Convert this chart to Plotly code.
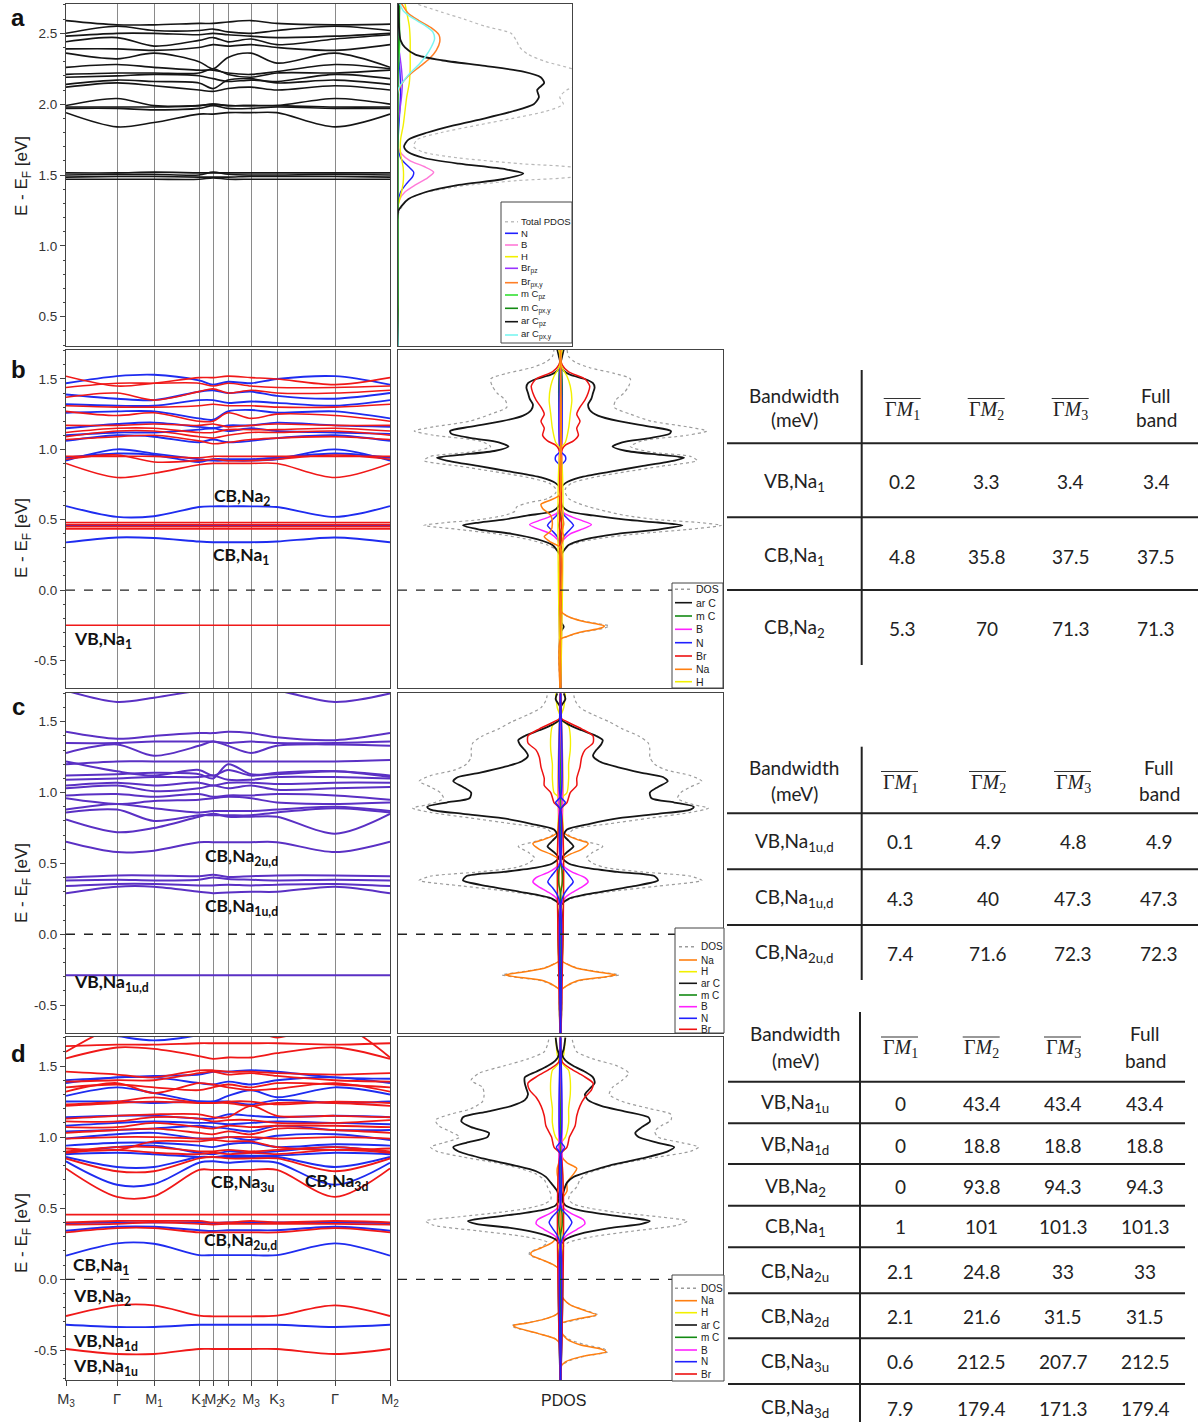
import plotly.graph_objects as go

W, H = 1198, 1422

# ---------------- k-path ----------------
KPOS = [0, 51, 88, 133, 147, 162, 185, 211, 269, 324]
KLABELS = ["M<sub>3</sub>", "Γ", "M<sub>1</sub>", "K<sub>1</sub>", "M<sub>2</sub>",
           "K<sub>2</sub>", "M<sub>3</sub>", "K<sub>3</sub>", "Γ", "M<sub>2</sub>"]

# energy tick labels
A_TICKS = [0.5, 1.0, 1.5, 2.0, 2.5]
BCD_TICKS = [-0.5, 0.0, 0.5, 1.0, 1.5]

# ---------------- band energies (eV) at the k-path nodes ----------------
A_BANDS = [
    [1.47, 1.47, 1.47, 1.47, 1.48, 1.47, 1.47, 1.47, 1.47, 1.47],
    [1.485, 1.49, 1.49, 1.485, 1.485, 1.485, 1.49, 1.49, 1.49, 1.485],
    [1.50, 1.505, 1.505, 1.50, 1.52, 1.505, 1.50, 1.50, 1.505, 1.50],
    [1.515, 1.515, 1.52, 1.515, 1.515, 1.515, 1.515, 1.515, 1.515, 1.515],
    [1.94, 1.84, 1.87, 1.93, 1.93, 1.94, 1.94, 1.94, 1.84, 1.93],
    [1.97, 1.97, 1.96, 1.97, 1.99, 1.97, 1.97, 1.98, 1.97, 1.97],
    [1.98, 1.98, 1.98, 1.99, 2.00, 1.99, 1.99, 1.99, 1.98, 1.98],
    [1.99, 2.04, 1.99, 1.99, 2.00, 1.99, 1.99, 1.99, 2.04, 2.00],
    [2.12, 2.15, 2.13, 2.10, 2.09, 2.11, 2.12, 2.10, 2.13, 2.10],
    [2.14, 2.17, 2.16, 2.15, 2.11, 2.17, 2.18, 2.15, 2.17, 2.14],
    [2.19, 2.20, 2.21, 2.20, 2.18, 2.16, 2.17, 2.16, 2.21, 2.18],
    [2.21, 2.22, 2.22, 2.22, 2.25, 2.21, 2.19, 2.22, 2.22, 2.24],
    [2.26, 2.28, 2.26, 2.24, 2.24, 2.22, 2.21, 2.23, 2.28, 2.25],
    [2.36, 2.32, 2.36, 2.30, 2.25, 2.33, 2.36, 2.29, 2.36, 2.26],
    [2.39, 2.39, 2.38, 2.40, 2.42, 2.41, 2.42, 2.40, 2.38, 2.42],
    [2.44, 2.47, 2.41, 2.45, 2.47, 2.44, 2.46, 2.42, 2.46, 2.49],
    [2.48, 2.50, 2.50, 2.49, 2.50, 2.49, 2.48, 2.47, 2.48, 2.50],
    [2.50, 2.55, 2.52, 2.52, 2.53, 2.51, 2.50, 2.52, 2.55, 2.52],
    [2.59, 2.56, 2.56, 2.57, 2.57, 2.58, 2.59, 2.57, 2.56, 2.565],
]

B_UP = [
    [-0.25, -0.25, -0.25, -0.25, -0.25, -0.25, -0.25, -0.25, -0.25, -0.25],
    [0.435, 0.435, 0.435, 0.435, 0.435, 0.435, 0.435, 0.435, 0.435, 0.435],
    [0.45, 0.45, 0.45, 0.45, 0.45, 0.45, 0.45, 0.45, 0.45, 0.45],
    [0.465, 0.465, 0.465, 0.465, 0.465, 0.465, 0.465, 0.465, 0.465, 0.465],
    [0.48, 0.48, 0.48, 0.48, 0.48, 0.48, 0.48, 0.48, 0.48, 0.48],
    [0.90, 0.80, 0.83, 0.89, 0.90, 0.90, 0.90, 0.90, 0.80, 0.90],
    [0.93, 0.96, 0.91, 0.92, 0.93, 0.92, 0.92, 0.93, 0.96, 0.93],
    [0.95, 0.95, 0.95, 0.94, 0.95, 0.95, 0.95, 0.95, 0.95, 0.95],
    [1.07, 1.09, 1.10, 1.06, 1.04, 1.05, 1.07, 1.08, 1.09, 1.07],
    [1.09, 1.13, 1.13, 1.09, 1.08, 1.10, 1.12, 1.12, 1.13, 1.10],
    [1.12, 1.15, 1.15, 1.12, 1.12, 1.14, 1.14, 1.14, 1.15, 1.13],
    [1.17, 1.17, 1.18, 1.17, 1.18, 1.16, 1.17, 1.18, 1.17, 1.17],
    [1.27, 1.24, 1.26, 1.20, 1.20, 1.26, 1.22, 1.25, 1.24, 1.20],
    [1.31, 1.30, 1.30, 1.31, 1.32, 1.31, 1.31, 1.30, 1.30, 1.32],
    [1.37, 1.40, 1.35, 1.41, 1.43, 1.40, 1.42, 1.40, 1.40, 1.42],
    [1.44, 1.47, 1.47, 1.47, 1.45, 1.47, 1.45, 1.44, 1.44, 1.45],
    [1.52, 1.45, 1.47, 1.51, 1.51, 1.52, 1.51, 1.50, 1.46, 1.51],
]
B_DN = [
    [0.339, 0.374, 0.37, 0.345, 0.34, 0.34, 0.34, 0.345, 0.374, 0.34],
    [0.455, 0.455, 0.455, 0.455, 0.455, 0.455, 0.455, 0.455, 0.455, 0.455],
    [0.597, 0.52, 0.525, 0.59, 0.595, 0.595, 0.595, 0.59, 0.52, 0.597],
    [0.92, 1.00, 0.97, 0.93, 0.92, 0.92, 0.92, 0.93, 1.00, 0.92],
    [0.94, 0.97, 0.96, 0.91, 0.93, 0.93, 0.93, 0.94, 0.97, 0.94],
    [1.06, 1.10, 1.09, 1.05, 1.07, 1.05, 1.06, 1.08, 1.10, 1.06],
    [1.10, 1.12, 1.12, 1.14, 1.15, 1.13, 1.15, 1.13, 1.12, 1.11],
    [1.15, 1.18, 1.19, 1.16, 1.15, 1.17, 1.17, 1.19, 1.17, 1.16],
    [1.26, 1.27, 1.27, 1.22, 1.21, 1.27, 1.28, 1.26, 1.27, 1.22],
    [1.32, 1.31, 1.31, 1.35, 1.35, 1.33, 1.34, 1.33, 1.31, 1.35],
    [1.39, 1.36, 1.35, 1.41, 1.42, 1.40, 1.41, 1.38, 1.36, 1.40],
    [1.47, 1.52, 1.53, 1.49, 1.46, 1.48, 1.47, 1.50, 1.52, 1.46],
]

C_BANDS = [
    [-0.29, -0.29, -0.29, -0.29, -0.29, -0.29, -0.29, -0.29, -0.29, -0.29],
    [0.289, 0.336, 0.336, 0.30, 0.29, 0.295, 0.30, 0.30, 0.336, 0.289],
    [0.34, 0.355, 0.355, 0.345, 0.345, 0.35, 0.345, 0.35, 0.355, 0.34],
    [0.38, 0.385, 0.38, 0.385, 0.40, 0.39, 0.385, 0.38, 0.385, 0.38],
    [0.40, 0.415, 0.415, 0.41, 0.42, 0.405, 0.41, 0.415, 0.415, 0.41],
    [0.654, 0.58, 0.59, 0.65, 0.65, 0.65, 0.65, 0.65, 0.58, 0.654],
    [0.81, 0.72, 0.75, 0.83, 0.85, 0.83, 0.83, 0.83, 0.71, 0.85],
    [0.86, 0.88, 0.80, 0.84, 0.84, 0.84, 0.84, 0.86, 0.89, 0.86],
    [0.88, 0.92, 0.89, 0.86, 0.87, 0.87, 0.87, 0.88, 0.90, 0.87],
    [0.96, 0.92, 0.94, 0.95, 0.96, 0.97, 0.96, 0.93, 0.92, 0.93],
    [0.98, 0.99, 0.97, 0.99, 0.97, 0.98, 0.98, 0.99, 0.98, 0.95],
    [1.03, 1.05, 1.01, 1.03, 1.05, 1.03, 1.05, 1.02, 1.03, 1.04],
    [1.05, 1.07, 1.05, 1.07, 1.05, 1.07, 1.07, 1.06, 1.07, 1.07],
    [1.09, 1.10, 1.11, 1.11, 1.12, 1.09, 1.09, 1.11, 1.11, 1.10],
    [1.12, 1.13, 1.14, 1.13, 1.10, 1.20, 1.13, 1.13, 1.15, 1.12],
    [1.20, 1.22, 1.22, 1.22, 1.22, 1.22, 1.22, 1.22, 1.22, 1.23],
    [1.22, 1.15, 1.12, 1.16, 1.12, 1.16, 1.12, 1.14, 1.15, 1.11],
    [1.28, 1.34, 1.26, 1.33, 1.36, 1.33, 1.28, 1.33, 1.34, 1.33],
    [1.35, 1.35, 1.36, 1.36, 1.36, 1.35, 1.36, 1.35, 1.35, 1.36],
    [1.43, 1.38, 1.40, 1.42, 1.42, 1.43, 1.42, 1.39, 1.37, 1.42],
    [1.72, 1.64, 1.67, 1.72, 1.73, 1.73, 1.73, 1.72, 1.64, 1.70],
]

D_UP = [
    [-0.49, -0.525, -0.525, -0.49, -0.49, -0.49, -0.49, -0.49, -0.525, -0.49],
    [-0.258, -0.183, -0.183, -0.255, -0.26, -0.26, -0.26, -0.255, -0.183, -0.258],
    [0.33, 0.36, 0.36, 0.33, 0.33, 0.33, 0.33, 0.33, 0.36, 0.33],
    [0.385, 0.39, 0.40, 0.39, 0.385, 0.39, 0.39, 0.39, 0.39, 0.385],
    [0.40, 0.41, 0.41, 0.41, 0.40, 0.40, 0.41, 0.40, 0.41, 0.40],
    [0.455, 0.455, 0.455, 0.455, 0.455, 0.455, 0.455, 0.455, 0.455, 0.455],
    [0.78, 0.58, 0.585, 0.77, 0.77, 0.77, 0.77, 0.77, 0.58, 0.78],
    [0.85, 0.76, 0.76, 0.85, 0.86, 0.85, 0.85, 0.85, 0.76, 0.85],
    [0.89, 0.91, 0.89, 0.88, 0.89, 0.88, 0.89, 0.88, 0.91, 0.89],
    [0.90, 0.93, 0.93, 0.90, 0.90, 0.91, 0.90, 0.91, 0.93, 0.90],
    [0.92, 0.91, 0.97, 0.97, 0.98, 0.97, 0.97, 0.93, 0.91, 0.92],
    [0.99, 1.00, 1.00, 0.99, 0.99, 1.00, 1.00, 0.99, 1.00, 0.99],
    [1.03, 1.05, 1.06, 1.03, 1.02, 1.04, 1.02, 1.06, 1.05, 1.03],
    [1.07, 1.07, 1.10, 1.07, 1.06, 1.08, 1.07, 1.08, 1.08, 1.07],
    [1.11, 1.11, 1.14, 1.13, 1.11, 1.12, 1.12, 1.10, 1.10, 1.12],
    [1.13, 1.15, 1.16, 1.16, 1.14, 1.14, 1.22, 1.15, 1.15, 1.14],
    [1.22, 1.24, 1.25, 1.24, 1.24, 1.24, 1.22, 1.24, 1.24, 1.22],
    [1.23, 1.25, 1.28, 1.24, 1.24, 1.25, 1.25, 1.23, 1.25, 1.24],
    [1.32, 1.38, 1.31, 1.38, 1.37, 1.35, 1.33, 1.34, 1.38, 1.32],
    [1.35, 1.37, 1.35, 1.33, 1.35, 1.37, 1.35, 1.38, 1.37, 1.35],
    [1.39, 1.40, 1.40, 1.45, 1.46, 1.44, 1.45, 1.43, 1.40, 1.39],
    [1.46, 1.44, 1.42, 1.47, 1.47, 1.46, 1.46, 1.45, 1.44, 1.45],
    [1.554, 1.63, 1.62, 1.57, 1.55, 1.56, 1.56, 1.59, 1.63, 1.55],
    [1.64, 1.65, 1.65, 1.66, 1.66, 1.66, 1.66, 1.66, 1.65, 1.66],
    [1.60, 1.78, 1.80, 1.78, 1.78, 1.78, 1.76, 1.70, 1.80, 1.56],
]
D_DN = [
    [-0.32, -0.335, -0.335, -0.32, -0.32, -0.32, -0.32, -0.32, -0.335, -0.32],
    [0.166, 0.253, 0.25, 0.17, 0.17, 0.17, 0.17, 0.17, 0.253, 0.166],
    [0.342, 0.37, 0.37, 0.345, 0.34, 0.345, 0.345, 0.345, 0.37, 0.342],
    [0.395, 0.40, 0.40, 0.40, 0.395, 0.40, 0.40, 0.40, 0.40, 0.395],
    [0.83, 0.665, 0.67, 0.82, 0.83, 0.82, 0.83, 0.82, 0.665, 0.82],
    [0.86, 0.79, 0.79, 0.86, 0.86, 0.86, 0.86, 0.86, 0.79, 0.86],
    [0.88, 0.89, 0.88, 0.86, 0.86, 0.87, 0.87, 0.87, 0.89, 0.88],
    [0.89, 0.93, 0.94, 0.89, 0.88, 0.90, 0.89, 0.90, 0.93, 0.89],
    [0.94, 0.96, 0.96, 0.94, 0.93, 0.95, 0.96, 0.93, 0.95, 0.94],
    [0.99, 1.02, 1.03, 0.99, 0.99, 1.00, 0.98, 1.01, 1.02, 0.98],
    [1.04, 1.05, 1.06, 1.08, 1.07, 1.06, 1.04, 1.08, 1.05, 1.05],
    [1.08, 1.10, 1.11, 1.10, 1.10, 1.09, 1.10, 1.11, 1.10, 1.09],
    [1.14, 1.15, 1.15, 1.13, 1.13, 1.16, 1.15, 1.14, 1.15, 1.14],
    [1.25, 1.25, 1.24, 1.25, 1.25, 1.25, 1.23, 1.26, 1.24, 1.25],
    [1.29, 1.35, 1.31, 1.25, 1.25, 1.29, 1.33, 1.28, 1.35, 1.30],
    [1.38, 1.42, 1.42, 1.38, 1.37, 1.39, 1.37, 1.40, 1.42, 1.38],
    [1.40, 1.42, 1.43, 1.44, 1.46, 1.46, 1.47, 1.46, 1.42, 1.41],
    [1.76, 1.71, 1.68, 1.72, 1.76, 1.78, 1.78, 1.78, 1.75, 1.78],
]

# ---------------- projected DOS: (E, value) or (E, spin up, spin down) ----------------
A_TOTAL = [(0.29, 0), (1.22, 0), (1.27, 0.02), (1.32, 0.05), (1.37, 0.14), (1.42, 0.35), (1.46, 0.68),
           (1.50, 1.05), (1.54, 1.05), (1.58, 0.7), (1.62, 0.35), (1.66, 0.15), (1.70, 0.09), (1.75, 0.11),
           (1.80, 0.25), (1.85, 0.45), (1.90, 0.66), (1.95, 0.85), (2.00, 0.95), (2.05, 0.93), (2.10, 0.97),
           (2.15, 1.08), (2.20, 1.1), (2.25, 1.0), (2.30, 0.85), (2.35, 0.75), (2.40, 0.7), (2.45, 0.68),
           (2.50, 0.65), (2.55, 0.5), (2.60, 0.38), (2.65, 0.25), (2.71, 0.1)]
A_N = [(0.29, 0), (1.30, 0), (1.38, 0.015), (1.44, 0.05), (1.49, 0.085), (1.52, 0.09), (1.56, 0.06),
       (1.61, 0.02), (1.66, 0.005), (1.72, 0), (1.95, 0.01), (2.1, 0.015), (2.25, 0.01), (2.4, 0), (2.71, 0)]
A_B = [(0.29, 0), (1.28, 0), (1.33, 0.01), (1.38, 0.04), (1.43, 0.1), (1.48, 0.17), (1.52, 0.205),
       (1.56, 0.15), (1.60, 0.07), (1.65, 0.02), (1.70, 0), (2.71, 0)]
A_H = [(0.29, 0), (1.28, 0), (1.35, 0.015), (1.45, 0.03), (1.55, 0.03), (1.65, 0.015), (1.75, 0.015),
       (1.85, 0.03), (1.95, 0.04), (2.05, 0.05), (2.15, 0.065), (2.25, 0.07), (2.35, 0.07), (2.45, 0.07),
       (2.55, 0.065), (2.65, 0.05), (2.71, 0.04)]
A_BR_PZ = [(0.29, 0), (1.85, 0), (1.95, 0.01), (2.05, 0.02), (2.15, 0.025), (2.25, 0.02), (2.35, 0.01),
           (2.45, 0), (2.71, 0)]
A_BR_PXY = [(0.29, 0), (2.08, 0), (2.14, 0.02), (2.20, 0.06), (2.26, 0.12), (2.32, 0.18), (2.38, 0.22),
            (2.44, 0.24), (2.49, 0.235), (2.54, 0.19), (2.59, 0.12), (2.64, 0.06), (2.71, 0.02)]
A_MC_PZ = [(0.29, 0), (2.2, 0), (2.3, 0.005), (2.45, 0.01), (2.6, 0.008), (2.71, 0.005)]
A_MC_PXY = [(0.29, 0), (2.3, 0), (2.5, 0.006), (2.71, 0.01)]
A_ARC_PZ = [(0.29, 0), (1.24, 0), (1.28, 0.02), (1.33, 0.06), (1.38, 0.16), (1.43, 0.35), (1.47, 0.6),
            (1.51, 0.72), (1.54, 0.62), (1.58, 0.35), (1.62, 0.15), (1.66, 0.06), (1.70, 0.035),
            (1.75, 0.06), (1.80, 0.17), (1.85, 0.32), (1.90, 0.5), (1.95, 0.66), (2.00, 0.78),
            (2.05, 0.81), (2.10, 0.8), (2.15, 0.84), (2.19, 0.82), (2.23, 0.72), (2.27, 0.5),
            (2.31, 0.25), (2.35, 0.1), (2.40, 0.04), (2.45, 0.015), (2.55, 0.005), (2.71, 0.0)]
A_ARC_PXY = [(0.29, 0), (2.10, 0), (2.16, 0.03), (2.22, 0.07), (2.28, 0.12), (2.34, 0.16), (2.40, 0.19),
             (2.46, 0.21), (2.51, 0.2), (2.56, 0.15), (2.61, 0.08), (2.66, 0.03), (2.71, 0.01)]

B_TOTAL = [(-0.75, 0, 0), (-0.36, 0, 0), (-0.33, 0.04, 0), (-0.30, 0.13, 0), (-0.27, 0.27, 0),
           (-0.255, 0.30, 0), (-0.24, 0.24, 0), (-0.22, 0.14, 0), (-0.19, 0.05, 0), (-0.16, 0.01, 0),
           (-0.13, 0, 0), (0.24, 0, 0), (0.28, 0.02, 0.02), (0.32, 0.06, 0.08), (0.36, 0.2, 0.2),
           (0.40, 0.48, 0.4), (0.43, 0.78, 0.62), (0.46, 0.99, 0.84), (0.48, 0.85, 0.7), (0.50, 0.6, 0.5),
           (0.53, 0.4, 0.35), (0.56, 0.28, 0.28), (0.59, 0.18, 0.27), (0.62, 0.1, 0.2), (0.65, 0.05, 0.08),
           (0.69, 0.03, 0.03), (0.72, 0.03, 0.03), (0.76, 0.07, 0.07), (0.80, 0.2, 0.2), (0.84, 0.4, 0.4),
           (0.88, 0.62, 0.62), (0.92, 0.84, 0.84), (0.95, 0.8, 0.8), (0.98, 0.56, 0.56), (1.02, 0.43, 0.43),
           (1.06, 0.5, 0.5), (1.10, 0.78, 0.78), (1.13, 0.9, 0.9), (1.16, 0.78, 0.78), (1.20, 0.56, 0.56),
           (1.25, 0.43, 0.43), (1.30, 0.33, 0.33), (1.35, 0.34, 0.34), (1.40, 0.39, 0.39), (1.45, 0.42, 0.42),
           (1.50, 0.43, 0.43), (1.54, 0.33, 0.33), (1.58, 0.18, 0.18), (1.62, 0.09, 0.09), (1.66, 0.05, 0.05),
           (1.71, 0.04, 0.04)]
B_ARC = [(-0.75, 0, 0), (-0.30, 0, 0), (-0.26, 0.02, 0), (-0.22, 0, 0), (0.24, 0, 0), (0.28, 0.02, 0.02),
         (0.32, 0.05, 0.05), (0.36, 0.15, 0.14), (0.40, 0.35, 0.3), (0.43, 0.6, 0.5), (0.46, 0.75, 0.6),
         (0.48, 0.6, 0.5), (0.50, 0.4, 0.35), (0.53, 0.2, 0.2), (0.56, 0.05, 0.05), (0.60, 0.01, 0.01),
         (0.72, 0.0, 0.0), (0.76, 0.03, 0.03), (0.80, 0.12, 0.12), (0.84, 0.3, 0.3), (0.88, 0.5, 0.5),
         (0.92, 0.7, 0.7), (0.94, 0.76, 0.76), (0.96, 0.62, 0.62), (0.99, 0.4, 0.4), (1.02, 0.32, 0.32),
         (1.05, 0.38, 0.38), (1.08, 0.55, 0.55), (1.11, 0.67, 0.67), (1.13, 0.68, 0.68), (1.16, 0.56, 0.56),
         (1.20, 0.36, 0.36), (1.24, 0.23, 0.23), (1.28, 0.18, 0.18), (1.32, 0.17, 0.17), (1.36, 0.19, 0.19),
         (1.40, 0.2, 0.2), (1.44, 0.21, 0.21), (1.47, 0.2, 0.2), (1.50, 0.15, 0.15), (1.53, 0.06, 0.06),
         (1.56, 0.02, 0.02), (1.60, 0, 0), (1.66, 0.01, 0.01), (1.71, 0.02, 0.02)]
B_NA = [(-0.75, 0, 0), (-0.35, 0, 0), (-0.33, 0.04, 0), (-0.30, 0.12, 0), (-0.27, 0.25, 0),
        (-0.255, 0.27, 0), (-0.24, 0.22, 0), (-0.22, 0.13, 0), (-0.19, 0.05, 0), (-0.16, 0.01, 0),
        (-0.13, 0, 0), (0.30, 0, 0), (0.34, 0.01, 0.06), (0.38, 0.02, 0.1), (0.42, 0.01, 0.06),
        (0.47, 0.02, 0.05), (0.53, 0.01, 0.06), (0.58, 0.0, 0.11), (0.61, 0, 0.12), (0.64, 0, 0.06),
        (0.67, 0, 0.01), (0.70, 0, 0), (1.71, 0, 0)]
B_BR = [(-0.75, 0), (0.95, 0), (1.0, 0.01), (1.03, 0.03), (1.06, 0.08), (1.10, 0.11), (1.15, 0.1),
        (1.20, 0.12), (1.25, 0.1), (1.30, 0.12), (1.35, 0.15), (1.40, 0.17), (1.45, 0.18), (1.50, 0.15),
        (1.55, 0.05), (1.60, 0.01), (1.65, 0), (1.71, 0)]
B_H = [(-0.75, 0), (1.0, 0), (1.05, 0.03), (1.15, 0.05), (1.25, 0.06), (1.35, 0.07), (1.45, 0.06),
       (1.52, 0.04), (1.58, 0.01), (1.62, 0), (1.71, 0.01)]
B_B = [(-0.75, 0), (0.30, 0), (0.36, 0.02), (0.40, 0.06), (0.44, 0.15), (0.465, 0.19), (0.49, 0.14),
       (0.52, 0.07), (0.55, 0.02), (0.60, 0), (1.71, 0)]
B_N = [(-0.75, 0), (0.30, 0), (0.38, 0.02), (0.42, 0.05), (0.46, 0.08), (0.50, 0.05), (0.55, 0.01),
       (0.60, 0), (0.88, 0), (0.92, 0.03), (0.95, 0.03), (0.99, 0), (1.71, 0)]
B_MC = [(-0.75, 0), (0.40, 0), (0.46, 0.01), (0.52, 0), (1.1, 0), (1.3, 0.01), (1.5, 0.01), (1.71, 0)]

C_TOTAL = [(-0.75, 0), (-0.40, 0), (-0.37, 0.03), (-0.33, 0.11), (-0.30, 0.3), (-0.287, 0.36),
           (-0.27, 0.27), (-0.24, 0.11), (-0.21, 0.04), (-0.18, 0), (0.20, 0), (0.25, 0.06), (0.30, 0.3),
           (0.34, 0.6), (0.38, 0.87), (0.41, 0.8), (0.44, 0.5), (0.47, 0.28), (0.50, 0.2), (0.54, 0.16),
           (0.58, 0.2), (0.62, 0.26), (0.66, 0.14), (0.70, 0.05), (0.74, 0.08), (0.78, 0.3), (0.82, 0.55),
           (0.86, 0.8), (0.89, 0.91), (0.92, 0.8), (0.96, 0.72), (1.0, 0.74), (1.04, 0.8), (1.08, 0.87),
           (1.12, 0.8), (1.16, 0.65), (1.20, 0.58), (1.25, 0.55), (1.30, 0.55), (1.35, 0.54), (1.40, 0.48),
           (1.45, 0.38), (1.50, 0.3), (1.55, 0.2), (1.60, 0.12), (1.65, 0.09), (1.70, 0.08)]
C_ARC = [(-0.75, 0), (-0.31, 0), (-0.29, 0.015), (-0.27, 0), (0.20, 0), (0.25, 0.05), (0.30, 0.25),
         (0.34, 0.45), (0.38, 0.6), (0.41, 0.58), (0.44, 0.35), (0.47, 0.15), (0.50, 0.05), (0.54, 0.01),
         (0.58, 0.04), (0.62, 0.08), (0.66, 0.05), (0.70, 0.02), (0.74, 0.04), (0.78, 0.18), (0.82, 0.36),
         (0.85, 0.6), (0.88, 0.8), (0.90, 0.82), (0.93, 0.7), (0.96, 0.56), (1.0, 0.55), (1.04, 0.6),
         (1.08, 0.66), (1.11, 0.63), (1.14, 0.5), (1.18, 0.35), (1.22, 0.24), (1.26, 0.2), (1.30, 0.22),
         (1.34, 0.25), (1.37, 0.26), (1.40, 0.22), (1.44, 0.13), (1.48, 0.05), (1.52, 0), (1.60, 0),
         (1.66, 0.03), (1.70, 0.02)]
C_NA = [(-0.75, 0), (-0.40, 0), (-0.37, 0.03), (-0.33, 0.1), (-0.30, 0.28), (-0.287, 0.34), (-0.27, 0.25),
        (-0.24, 0.1), (-0.21, 0.04), (-0.18, 0), (0.30, 0), (0.36, 0.01), (0.42, 0.01), (0.48, 0.005),
        (0.52, 0), (0.56, 0.05), (0.60, 0.13), (0.64, 0.17), (0.67, 0.1), (0.70, 0.04), (0.74, 0), (1.70, 0)]
C_BR = [(-0.75, 0), (0.88, 0), (0.93, 0.04), (1.0, 0.06), (1.05, 0.1), (1.10, 0.1), (1.18, 0.12),
        (1.25, 0.13), (1.30, 0.15), (1.35, 0.2), (1.40, 0.2), (1.45, 0.13), (1.50, 0.04), (1.53, 0), (1.70, 0)]
C_H = [(-0.75, 0), (0.95, 0), (1.0, 0.04), (1.1, 0.05), (1.2, 0.05), (1.3, 0.06), (1.4, 0.06),
       (1.47, 0.05), (1.52, 0), (1.6, 0.02), (1.70, 0.03)]
C_B = [(-0.75, 0), (0.20, 0), (0.26, 0.03), (0.30, 0.08), (0.34, 0.14), (0.37, 0.17), (0.40, 0.15),
       (0.44, 0.07), (0.48, 0.02), (0.52, 0), (1.70, 0)]
C_N = [(-0.75, 0), (0.20, 0), (0.28, 0.02), (0.33, 0.05), (0.37, 0.078), (0.42, 0.05), (0.48, 0.01),
       (0.52, 0), (0.88, 0), (0.93, 0.03), (0.97, 0), (1.70, 0)]
C_MC = [(-0.75, 0), (0.28, 0), (0.35, 0.01), (0.45, 0.01), (0.52, 0), (1.70, 0)]

D_TOTAL = [(-0.75, 0, 0), (-0.62, 0, 0), (-0.58, 0.04, 0), (-0.54, 0.15, 0), (-0.51, 0.29, 0),
           (-0.49, 0.27, 0), (-0.46, 0.15, 0), (-0.42, 0.05, 0.03), (-0.38, 0.01, 0.14), (-0.34, 0, 0.28),
           (-0.325, 0, 0.3), (-0.31, 0.01, 0.23), (-0.28, 0.12, 0.1), (-0.25, 0.23, 0.03), (-0.22, 0.16, 0),
           (-0.18, 0.06, 0), (-0.14, 0.02, 0), (-0.10, 0, 0), (0.06, 0, 0), (0.10, 0, 0.04), (0.14, 0, 0.12),
           (0.17, 0, 0.19), (0.19, 0.01, 0.19), (0.22, 0.01, 0.13), (0.26, 0.05, 0.08), (0.30, 0.2, 0.22),
           (0.34, 0.45, 0.5), (0.38, 0.72, 0.78), (0.41, 0.78, 0.83), (0.44, 0.6, 0.62), (0.47, 0.35, 0.38),
           (0.50, 0.18, 0.2), (0.53, 0.08, 0.1), (0.56, 0.05, 0.06), (0.60, 0.06, 0.06), (0.65, 0.1, 0.08),
           (0.70, 0.12, 0.1), (0.74, 0.16, 0.15), (0.78, 0.26, 0.25), (0.82, 0.4, 0.4), (0.86, 0.6, 0.6),
           (0.90, 0.8, 0.76), (0.93, 0.85, 0.8), (0.96, 0.75, 0.72), (1.0, 0.6, 0.62), (1.04, 0.58, 0.68),
           (1.08, 0.62, 0.75), (1.12, 0.68, 0.77), (1.16, 0.68, 0.68), (1.20, 0.55, 0.55), (1.25, 0.38, 0.48),
           (1.30, 0.3, 0.47), (1.35, 0.32, 0.48), (1.40, 0.38, 0.55), (1.45, 0.42, 0.5), (1.50, 0.35, 0.35),
           (1.55, 0.2, 0.2), (1.60, 0.1, 0.1), (1.65, 0.08, 0.08), (1.70, 0.07, 0.07)]
D_ARC = [(-0.75, 0, 0), (0.24, 0, 0), (0.28, 0.03, 0.03), (0.32, 0.12, 0.12), (0.36, 0.3, 0.3),
         (0.39, 0.5, 0.52), (0.41, 0.55, 0.57), (0.43, 0.45, 0.47), (0.46, 0.25, 0.26), (0.49, 0.1, 0.1),
         (0.52, 0.03, 0.03), (0.56, 0.01, 0.01), (0.62, 0.02, 0.02), (0.68, 0.04, 0.06), (0.72, 0.08, 0.09),
         (0.76, 0.18, 0.15), (0.80, 0.3, 0.28), (0.85, 0.5, 0.48), (0.90, 0.66, 0.63), (0.93, 0.7, 0.66),
         (0.96, 0.6, 0.58), (1.0, 0.48, 0.45), (1.03, 0.46, 0.44), (1.07, 0.5, 0.55), (1.11, 0.55, 0.61),
         (1.14, 0.54, 0.6), (1.18, 0.4, 0.45), (1.22, 0.25, 0.3), (1.26, 0.17, 0.22), (1.30, 0.15, 0.2),
         (1.34, 0.18, 0.21), (1.38, 0.21, 0.22), (1.42, 0.2, 0.22), (1.46, 0.15, 0.15), (1.50, 0.08, 0.08),
         (1.54, 0.03, 0.03), (1.58, 0.01, 0.01), (1.62, 0.02, 0.02), (1.70, 0.03, 0.03)]
D_NA = [(-0.75, 0, 0), (-0.62, 0, 0), (-0.58, 0.03, 0), (-0.54, 0.14, 0), (-0.51, 0.28, 0),
        (-0.49, 0.25, 0), (-0.46, 0.12, 0), (-0.42, 0.04, 0.03), (-0.38, 0.01, 0.14), (-0.34, 0, 0.27),
        (-0.325, 0, 0.29), (-0.31, 0, 0.22), (-0.28, 0.1, 0.1), (-0.25, 0.22, 0.03), (-0.22, 0.15, 0),
        (-0.18, 0.06, 0), (-0.14, 0.02, 0), (-0.10, 0, 0), (0.06, 0, 0), (0.10, 0, 0.04), (0.14, 0, 0.12),
        (0.17, 0, 0.18), (0.19, 0, 0.18), (0.22, 0, 0.12), (0.26, 0, 0.05), (0.30, 0, 0.02), (0.34, 0, 0),
        (0.55, 0, 0), (0.62, 0.04, 0.01), (0.68, 0.04, 0.01), (0.74, 0.08, 0.02), (0.78, 0.1, 0.02),
        (0.82, 0.04, 0.01), (0.86, 0.01, 0), (1.70, 0, 0)]
D_BR = [(-0.75, 0), (0.88, 0), (0.93, 0.04), (1.0, 0.055), (1.08, 0.09), (1.15, 0.1), (1.22, 0.12),
        (1.28, 0.15), (1.33, 0.19), (1.38, 0.2), (1.43, 0.14), (1.48, 0.065), (1.53, 0.01), (1.70, 0)]
D_H = [(-0.75, 0), (0.95, 0), (1.0, 0.03), (1.1, 0.05), (1.2, 0.05), (1.3, 0.06), (1.4, 0.06),
       (1.47, 0.05), (1.52, 0.01), (1.58, 0.02), (1.70, 0.03)]
D_B = [(-0.75, 0), (0.24, 0), (0.30, 0.03), (0.35, 0.1), (0.39, 0.15), (0.42, 0.14), (0.46, 0.07),
       (0.50, 0.02), (0.54, 0), (1.70, 0)]
D_N = [(-0.75, 0), (0.24, 0), (0.31, 0.02), (0.36, 0.05), (0.40, 0.07), (0.44, 0.05), (0.49, 0.01),
       (0.53, 0), (0.88, 0), (0.93, 0.025), (0.97, 0), (1.70, 0)]
D_MC = [(-0.75, 0), (0.30, 0), (0.38, 0.01), (0.46, 0.01), (0.52, 0), (1.70, 0)]

# ---------------- bandwidth tables (meV) ----------------
COL_HEAD = ["Γ<i>M</i><sub>1</sub>", "Γ<i>M</i><sub>2</sub>", "Γ<i>M</i><sub>3</sub>"]
TB_ROWS = ["VB,Na<sub>1</sub>", "CB,Na<sub>1</sub>", "CB,Na<sub>2</sub>"]
TB_VALS = [[0.2, 3.3, 3.4, 3.4], [4.8, 35.8, 37.5, 37.5], [5.3, 70, 71.3, 71.3]]
TC_ROWS = ["VB,Na<sub>1u,d</sub>", "CB,Na<sub>1u,d</sub>", "CB,Na<sub>2u,d</sub>"]
TC_VALS = [[0.1, 4.9, 4.8, 4.9], [4.3, 40, 47.3, 47.3], [7.4, 71.6, 72.3, 72.3]]
TD_ROWS = ["VB,Na<sub>1u</sub>", "VB,Na<sub>1d</sub>", "VB,Na<sub>2</sub>", "CB,Na<sub>1</sub>",
           "CB,Na<sub>2u</sub>", "CB,Na<sub>2d</sub>", "CB,Na<sub>3u</sub>", "CB,Na<sub>3d</sub>"]
TD_VALS = [[0, 43.4, 43.4, 43.4], [0, 18.8, 18.8, 18.8], [0, 93.8, 94.3, 94.3], [1, 101, 101.3, 101.3],
           [2.1, 24.8, 33, 33], [2.1, 21.6, 31.5, 31.5], [0.6, 212.5, 207.7, 212.5],
           [7.9, 179.4, 171.3, 179.4]]

# ---------------- styling ----------------
RED = "#f01818"
BLUE = "#1e2cf0"
PURPLE = "#5a30c4"
GRAY = "#9c9c9c"
ARIAL = "Liberation Sans, Arial"
BODY = "Lato"
SERIF = "Liberation Serif"


def px(x):
    return x / W


def py(y):
    return 1 - y / H


fig = go.Figure()


def add_bands(bands, color, ax, width=1.9):
    xa, ya = ("x", "y") if ax == 1 else (f"x{ax}", f"y{ax}")
    for b in bands:
        fig.add_trace(go.Scatter(x=KPOS, y=b, mode="lines", xaxis=xa, yaxis=ya,
                                 line=dict(color=color, width=width, shape="spline", smoothing=0.9),
                                 showlegend=False, hoverinfo="skip"))


def add_dos(data, color, ax, width=1.6, dash="solid", mirror=True):
    xa, ya = f"x{ax}", f"y{ax}"
    e = [r[0] for r in data]
    up = [r[1] for r in data]
    dn = [r[2] if len(r) > 2 else r[1] for r in data]
    line = dict(color=color, width=width, dash=dash, shape="spline", smoothing=0.7)
    fig.add_trace(go.Scatter(x=up, y=e, mode="lines", xaxis=xa, yaxis=ya, line=line,
                             showlegend=False, hoverinfo="skip"))
    if mirror:
        fig.add_trace(go.Scatter(x=[-v for v in dn], y=e, mode="lines", xaxis=xa, yaxis=ya, line=line,
                                 showlegend=False, hoverinfo="skip"))


# band structures
add_bands(A_BANDS, "#151515", 1, 1.6)
add_bands(B_DN, BLUE, 3)
add_bands(B_UP, RED, 3, 1.6)
add_bands(C_BANDS, PURPLE, 5, 2.0)
add_bands(D_DN, BLUE, 7)
add_bands(D_UP, RED, 7, 1.8)

# PDOS panel a (one-sided)
for data, col, w, d in [(A_TOTAL, "#b8b8b8", 1.2, "dot"), (A_N, "#2020ff", 1.4, "solid"),
                        (A_B, "#ff7ad8", 1.4, "solid"), (A_H, "#f2f000", 1.4, "solid"),
                        (A_BR_PZ, "#9933ff", 1.4, "solid"), (A_BR_PXY, "#ff7f27", 1.5, "solid"),
                        (A_MC_PZ, "#33e033", 1.4, "solid"), (A_MC_PXY, "#138a13", 1.4, "solid"),
                        (A_ARC_PZ, "#151515", 1.8, "solid"), (A_ARC_PXY, "#7af5f0", 1.5, "solid")]:
    add_dos(data, col, 2, w, d, mirror=False)

# PDOS panels b, c, d (spin up to the right, spin down to the left)
for data, col, w, d in [(B_TOTAL, GRAY, 1.2, "dot"), (B_ARC, "#151515", 1.8, "solid"),
                        (B_MC, "#138a13", 1.4, "solid"), (B_B, "#ff22ff", 1.5, "solid"),
                        (B_N, "#2020ff", 1.5, "solid"), (B_BR, "#ee1111", 1.5, "solid"),
                        (B_H, "#f2f000", 1.4, "solid"), (B_NA, "#ff7f10", 1.5, "solid")]:
    add_dos(data, col, 4, w, d)
for data, col, w, d in [(C_TOTAL, GRAY, 1.2, "dot"), (C_NA, "#ff7f10", 1.5, "solid"),
                        (C_H, "#f2f000", 1.4, "solid"), (C_ARC, "#151515", 1.8, "solid"),
                        (C_MC, "#138a13", 1.4, "solid"), (C_B, "#ff22ff", 1.5, "solid"),
                        (C_BR, "#ee1111", 1.5, "solid"), (C_N, "#2020ff", 1.5, "solid")]:
    add_dos(data, col, 6, w, d)
for data, col, w, d in [(D_TOTAL, GRAY, 1.2, "dot"), (D_NA, "#ff7f10", 1.5, "solid"),
                        (D_H, "#f2f000", 1.4, "solid"), (D_ARC, "#151515", 1.8, "solid"),
                        (D_MC, "#138a13", 1.4, "solid"), (D_B, "#ff22ff", 1.5, "solid"),
                        (D_BR, "#ee1111", 1.5, "solid"), (D_N, "#2020ff", 1.5, "solid")]:
    add_dos(data, col, 8, w, d)

# ---------------- axes ----------------
FRAME = dict(showline=True, mirror=True, linecolor="#444", linewidth=1.2, zeroline=False, automargin=False)
PANELS = {  # band-axis index: (top px, bottom px, y-range, energy ticks)
    1: (4, 346, [0.293, 2.707], A_TICKS),
    3: (350, 688, [-0.696, 1.706], BCD_TICKS),
    5: (693, 1033, [-0.697, 1.703], BCD_TICKS),
    7: (1037, 1380, [-0.708, 1.704], BCD_TICKS),
}
TICKFONT = dict(family=ARIAL, size=13.5, color="#333")
layout_axes = {}
for ax, (top, bot, yr, yt) in PANELS.items():
    xa = "xaxis" if ax == 1 else f"xaxis{ax}"
    ya = "yaxis" if ax == 1 else f"yaxis{ax}"
    xs = "" if ax == 1 else str(ax)
    last = ax == 7
    xdict = dict(domain=[px(66), px(390)], range=[0, 324], anchor="y" + xs,
                 tickmode="array", tickvals=KPOS, showticklabels=last,
                 ticks="outside" if last else "", ticklen=5, tickcolor="#444", tickangle=0,
                 tickfont=dict(family=ARIAL, size=14.5, color="#333"),
                 showgrid=True, gridcolor="#8a8a8a", gridwidth=1, **FRAME)
    if last:
        xdict["ticktext"] = KLABELS
    layout_axes[xa] = xdict
    layout_axes[ya] = dict(domain=[py(bot), py(top)], range=yr, anchor="x" + xs,
                           tickmode="array", tickvals=yt, ticktext=[f"{v:.1f}" for v in yt],
                           ticks="outside", ticklen=5, tickcolor="#444", tickfont=TICKFONT,
                           minor=dict(tickmode="linear", tick0=0, dtick=0.1, ticks="outside",
                                      ticklen=2, tickcolor="#444"),
                           showgrid=False, **FRAME)
    # PDOS axis beside the bands
    pi = ax + 1
    right = 572 if ax == 1 else 723
    layout_axes[f"xaxis{pi}"] = dict(domain=[px(398), px(right)],
                                     range=[0, 1] if ax == 1 else [-1, 1], anchor=f"y{pi}",
                                     showticklabels=False, ticks="", showgrid=False, **FRAME)
    layout_axes[f"yaxis{pi}"] = dict(domain=[py(bot), py(top)], range=yr, anchor=f"x{pi}",
                                     showticklabels=False, ticks="", showgrid=False, **FRAME)

shapes = []
annotations = []


def text(x, y, s, size, family=BODY, color="#222", xanchor="center", bold=False, angle=0):
    annotations.append(dict(x=px(x), y=py(y), xref="paper", yref="paper", text=f"<b>{s}</b>" if bold else s,
                            showarrow=False, xanchor=xanchor, yanchor="middle", textangle=angle,
                            font=dict(family=family, size=size, color=color)))


def hline(x0, x1, y, color="#222", width=2.0, dash="solid"):
    shapes.append(dict(type="line", xref="paper", yref="paper", x0=px(x0), x1=px(x1), y0=py(y), y1=py(y),
                       line=dict(color=color, width=width, dash=dash)))


def vline(x, y0, y1, color="#222", width=2.0):
    shapes.append(dict(type="line", xref="paper", yref="paper", x0=px(x), x1=px(x), y0=py(y0), y1=py(y1),
                       line=dict(color=color, width=width)))


# Fermi level (dashed) in panels b-d
for ax in (3, 5, 7):
    for a in (ax, ax + 1):
        shapes.append(dict(type="line", xref=f"x{a} domain", yref=f"y{a}", x0=0, x1=1, y0=0, y1=0,
                           line=dict(color="#222", width=1.3, dash="dash")))


# manual PDOS legends
def legend(box, entries, x_line, x_text, size):
    x0, y0, x1, y1 = box
    shapes.append(dict(type="rect", xref="paper", yref="paper", x0=px(x0), x1=px(x1), y0=py(y1), y1=py(y0),
                       line=dict(color="#444", width=1), fillcolor="white"))
    for label, color, dash, y in entries:
        shapes.append(dict(type="line", xref="paper", yref="paper", x0=px(x_line[0]), x1=px(x_line[1]),
                           y0=py(y), y1=py(y), line=dict(color=color, width=1.6, dash=dash)))
        text(x_text, y, label, size, family=ARIAL, color="#222", xanchor="left")


legend((501, 202, 572, 343), [
    ("Total PDOS", "#c0c0c0", "dot", 221.7), ("N", "#2020ff", "solid", 233.3), ("B", "#ff7ad8", "solid", 245),
    ("H", "#f2f000", "solid", 256.7), ("Br<sub>pz</sub>", "#9933ff", "solid", 268.3),
    ("Br<sub>px,y</sub>", "#ff7f27", "solid", 282.7), ("m C<sub>pz</sub>", "#33e033", "solid", 295),
    ("m C<sub>px,y</sub>", "#138a13", "solid", 308.3), ("ar C<sub>pz</sub>", "#151515", "solid", 321.7),
    ("ar C<sub>px,y</sub>", "#7af5f0", "solid", 335)], (505, 518), 519, 9.5)
legend((672, 583, 723, 688), [
    ("DOS", GRAY, "dot", 589.3), ("ar C", "#151515", "solid", 602.7), ("m C", "#138a13", "solid", 616),
    ("B", "#ff22ff", "solid", 629.3), ("N", "#2020ff", "solid", 642.7), ("Br", "#ee1111", "solid", 656),
    ("Na", "#ff7f10", "solid", 669.3), ("H", "#f2f000", "solid", 681.7)], (675, 692), 694, 10.5)
for box, ys, xl, xt in [((675, 928, 724, 1033), [946.7, 960, 971.7, 983.3, 995, 1006.7, 1018.3, 1029.3],
                         (679, 697), 699),
                        ((672, 1275, 724, 1381), [1288.3, 1300.7, 1312.7, 1325, 1337.3, 1350, 1361.7, 1374],
                         (675, 697), 699)]:
    legend(box, list(zip(["DOS", "Na", "H", "ar C", "m C", "B", "N", "Br"],
                         [GRAY, "#ff7f10", "#f2f000", "#151515", "#138a13", "#ff22ff", "#2020ff", "#ee1111"],
                         ["dot"] + ["solid"] * 7, ys)), xl, xt, 10)

# panel letters, axis titles, PDOS label
for letter, y in [("a", 18), ("b", 369), ("c", 706), ("d", 1053)]:
    text(18, y, letter, 24, family=ARIAL, color="#111", bold=True)
for y in [176, 538, 883, 1233]:
    text(23, y, "E - E<sub>F</sub> [eV]", 17, family=ARIAL, color="#222", angle=-90)
text(563, 1400, "PDOS", 16, family=ARIAL, color="#222")

# band labels
for s, x, y in [("CB,Na<sub>2</sub>", 212, 496.7), ("CB,Na<sub>1</sub>", 211, 555.7), ("VB,Na<sub>1</sub>", 72, 640),
                ("CB,Na<sub>2u,d</sub>", 203, 856.7), ("CB,Na<sub>1u,d</sub>", 203, 906.7),
                ("VB,Na<sub>1u,d</sub>", 72, 983), ("CB,Na<sub>3u</sub>", 209, 1183),
                ("CB,Na<sub>3d</sub>", 303, 1181.7), ("CB,Na<sub>2u,d</sub>", 202, 1240.7),
                ("CB,Na<sub>1</sub>", 71, 1266), ("VB,Na<sub>2</sub>", 71, 1296.7),
                ("VB,Na<sub>1d</sub>", 71, 1341.7), ("VB,Na<sub>1u</sub>", 71, 1366.7)]:
    text(x, y, s, 17.5, family=BODY, color="#111", xanchor="left", bold=True)


# bandwidth tables
def table(cols, head_y, gm_y, over_y, rows, vals, row_y, hl, hx, vx, vy):
    text(cols[0], head_y[0], "Bandwidth", 19)
    text(cols[0], head_y[1], "(meV)", 19)
    for c, h in zip(cols[1:4], COL_HEAD):
        text(c, gm_y, h, 20, family=SERIF)
        hline(c - 19, c + 18, over_y, color="#333", width=1.1)
    text(cols[4], head_y[0], "Full", 19)
    text(cols[4], head_y[1], "band", 19)
    for r, v, y in zip(rows, vals, row_y):
        text(cols[0], y, r, 19)
        for c, val in zip(cols[1:], v):
            text(c, y, f"{val:g}", 19)
    for y in hl:
        hline(hx[0], hx[1], y)
    vline(vx, vy[0], vy[1])


table([794, 902.7, 986.7, 1070.7, 1156], (395, 420), 410, 398.5, TB_ROWS, TB_VALS,
      [481.7, 556, 628], [443.3, 517.3, 590], (727, 1198), 861.7, (370, 665))
table([794, 900, 988, 1073, 1159], (768, 793), 783, 771.5, TC_ROWS, TC_VALS,
      [841.7, 898.3, 953.3], [813.3, 869.3, 925], (727, 1198), 861.7, (746.7, 980))
table([795, 900, 981.7, 1063, 1145], (1033, 1060), 1048, 1037, TD_ROWS, TD_VALS,
      [1103.3, 1145, 1186.7, 1226.7, 1271.7, 1316.7, 1361.7, 1408.3],
      [1081.7, 1123.3, 1164, 1205.7, 1247.3, 1293.3, 1338.3, 1384], (728, 1185), 860, (1012, 1422))

# margins fixed at zero: nothing may push them, so paper coordinates map 1:1 to pixels
fig.update_layout(width=W, height=H, autosize=False,
                  margin=dict(l=0, r=0, t=0, b=0, pad=0, autoexpand=False),
                  paper_bgcolor="white", plot_bgcolor="white", showlegend=False,
                  shapes=shapes, annotations=annotations, **layout_axes)

fig.write_html("out.html")
